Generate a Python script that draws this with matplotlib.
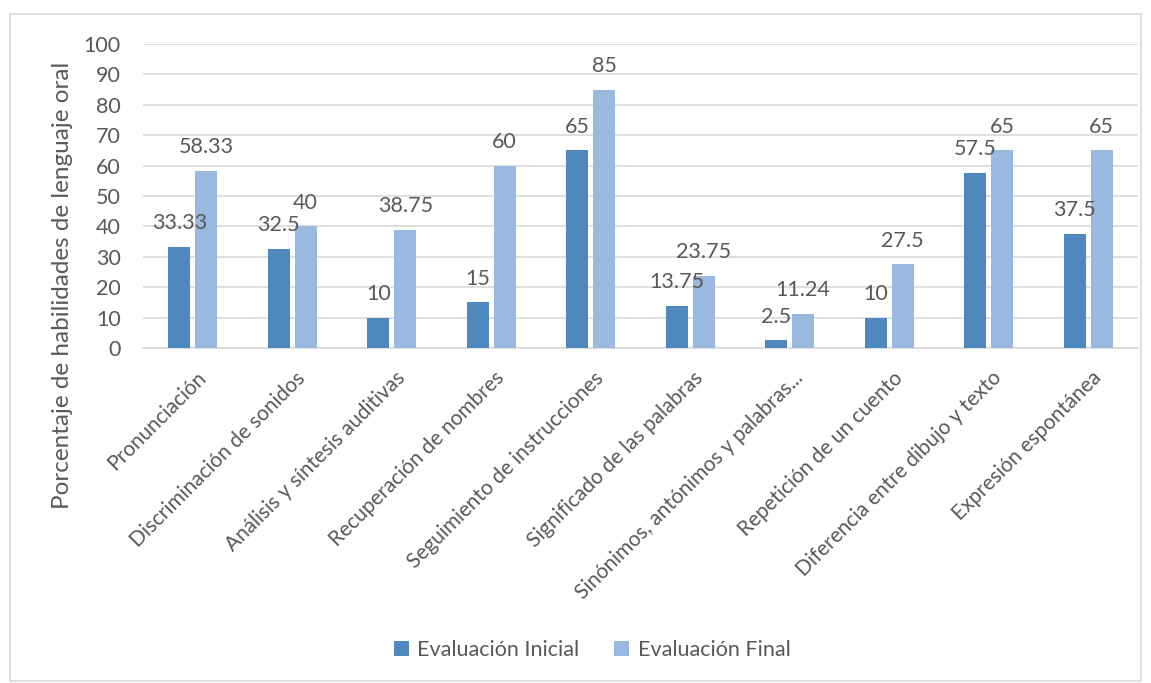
import matplotlib
matplotlib.use("Agg")
import matplotlib.pyplot as plt
from matplotlib.patches import Rectangle
import numpy as np

categories = [
    "Pronunciación",
    "Discriminación de sonidos",
    "Análisis y síntesis auditivas",
    "Recuperación de nombres",
    "Seguimiento de instrucciones",
    "Significado de las palabras",
    "Sinónimos, antónimos y palabras...",
    "Repetición de un cuento",
    "Diferencia entre dibujo y texto",
    "Expresión espontánea",
]
inicial = [33.33, 32.5, 10, 15, 65, 13.75, 2.5, 10, 57.5, 37.5]
final = [58.33, 40, 38.75, 60, 85, 23.75, 11.24, 27.5, 65, 65]
inicial_labels = ["33.33", "32.5", "10", "15", "65", "13.75", "2.5", "10", "57.5", "37.5"]
final_labels = ["58.33", "40", "38.75", "60", "85", "23.75", "11.24", "27.5", "65", "65"]
series_names = ["Evaluación Inicial", "Evaluación Final"]
y_ticks = list(range(0, 101, 10))

plt.rcParams["font.family"] = ["Lato", "DejaVu Sans"]
text_color = "#595959"
c_ini = "#4F88BD"
c_fin = "#99B9E0"

fig = plt.figure(figsize=(11.51, 6.83), dpi=100)
fig.patch.set_facecolor("white")
fig.patches.append(Rectangle((10 / 1151, 1 - 681 / 683), 1131 / 1151, 667 / 683,
                             transform=fig.transFigure, fill=False,
                             edgecolor="#D9D9D9", linewidth=1.2))

ax = fig.add_axes([143 / 1151, 1 - 348 / 683, 995 / 1151, 304 / 683])
x = np.arange(len(categories))
w = 0.22
gap = 0.05
b1 = ax.bar(x - (w + gap) / 2, inicial, w, color=c_ini, label=series_names[0], zorder=3)
b2 = ax.bar(x + (w + gap) / 2, final, w, color=c_fin, label=series_names[1], zorder=3)

for bars, labels in ((b1, inicial_labels), (b2, final_labels)):
    for rect, lab in zip(bars, labels):
        ax.annotate(lab, (rect.get_x() + rect.get_width() / 2, rect.get_height()),
                    xytext=(0, 10), textcoords="offset points", ha="center", va="bottom",
                    fontsize=15.5, color=text_color)

ax.set_xlim(-0.5, len(categories) - 0.5)
ax.set_ylim(0, 100)
ax.set_yticks(y_ticks)
ax.yaxis.grid(True, color="#D9D9D9", linewidth=1.2, zorder=0)
ax.set_axisbelow(True)
for s in ("top", "right", "left"):
    ax.spines[s].set_visible(False)
ax.spines["bottom"].set_color("#D9D9D9")
ax.spines["bottom"].set_linewidth(1.2)
ax.tick_params(axis="y", length=0, labelsize=15.5, labelcolor=text_color, pad=16)
ax.tick_params(axis="x", length=0)
ax.set_xticks(x)
ax.set_xticklabels([])
for xi, cat in zip(x, categories):
    ax.text(xi + 0.03, -6.5, cat, rotation=45, rotation_mode="anchor",
            ha="right", va="top", fontsize=15, color=text_color,
            transform=ax.transData, clip_on=False)

ax.set_ylabel("Porcentaje de habilidades de lenguaje oral", fontsize=17.5,
              color=text_color)
ax.yaxis.set_label_coords(-0.070, 0.207)

fig.legend(handles=[b1, b2], labels=series_names, loc="center",
           bbox_to_anchor=(592 / 1151, 1 - 650 / 683), ncol=2, frameon=False,
           fontsize=15.5, labelcolor=text_color, handlelength=0.7, handleheight=0.7,
           handletextpad=0.4, columnspacing=1.6)

fig.savefig("out.png", dpi=100, facecolor="white")
